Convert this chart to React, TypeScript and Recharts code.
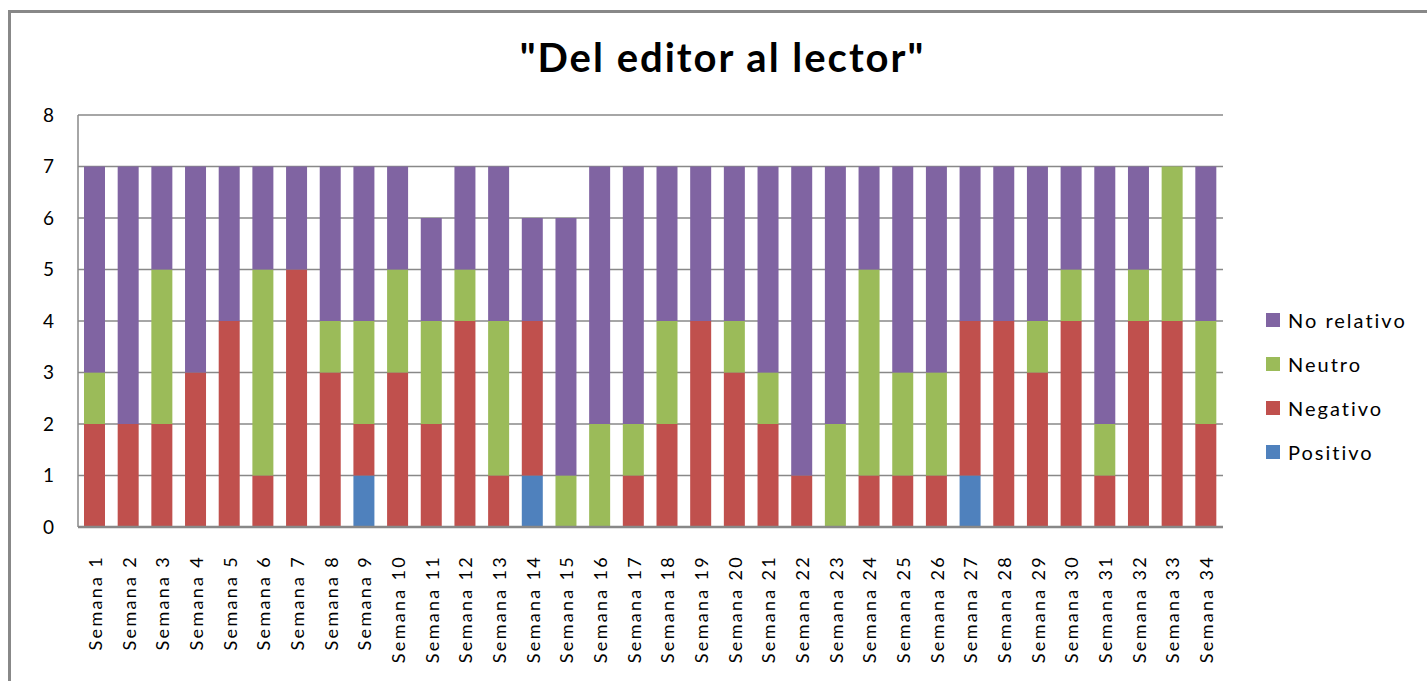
import { BarChart, Bar, XAxis, YAxis, CartesianGrid } from "recharts";

const semanas = Array.from({ length: 34 }, (_, i) => `Semana ${i + 1}`);
const positivo = [0, 0, 0, 0, 0, 0, 0, 0, 1, 0, 0, 0, 0, 1, 0, 0, 0, 0, 0, 0, 0, 0, 0, 0, 0, 0, 1, 0, 0, 0, 0, 0, 0, 0];
const negativo = [2, 2, 2, 3, 4, 1, 5, 3, 1, 3, 2, 4, 1, 3, 0, 0, 1, 2, 4, 3, 2, 1, 0, 1, 1, 1, 3, 4, 3, 4, 1, 4, 4, 2];
const neutro = [1, 0, 3, 0, 0, 4, 0, 1, 2, 2, 2, 1, 3, 0, 1, 2, 1, 2, 0, 1, 1, 0, 2, 4, 2, 2, 0, 0, 1, 1, 1, 1, 3, 2];
const noRelativo = [4, 5, 2, 4, 3, 2, 2, 3, 3, 2, 2, 2, 3, 2, 5, 5, 5, 3, 3, 3, 4, 6, 5, 2, 4, 4, 3, 3, 3, 2, 5, 2, 0, 3];
const yTicks = [0, 1, 2, 3, 4, 5, 6, 7, 8];

const data = semanas.map((name, i) => ({
    name,
    positivo: positivo[i],
    negativo: negativo[i],
    neutro: neutro[i],
    noRelativo: noRelativo[i],
}));

const FONT = "Lato, 'Open Sans', sans-serif";

const legendItems = [
    { label: "No relativo", color: "#8064A2" },
    { label: "Neutro", color: "#9BBB59" },
    { label: "Negativo", color: "#C0504D" },
    { label: "Positivo", color: "#4F81BD" },
];

// rotated week labels, ending a bit below the axis
function WeekTick(props: any) {
    const { x, y, payload } = props;
    return (
        <g transform={`translate(${x},${y})`}>
            <text
                x={-26}
                y={0}
                transform="rotate(-90)"
                textAnchor="end"
                dominantBaseline="central"
                fontFamily={FONT}
                fontSize={18}
                letterSpacing={2.3}
                fill="#000"
            >
                {payload.value}
            </text>
        </g>
    );
}

function SideLegend() {
    return (
        <div style={{ position: "absolute", left: 1266, top: 298, fontFamily: FONT }}>
            {legendItems.map((it) => (
                <div key={it.label} style={{ display: "flex", alignItems: "center", height: 44 }}>
                    <span style={{ width: 14, height: 14, background: it.color, display: "inline-block", marginRight: 8 }} />
                    <span style={{ fontSize: 20, letterSpacing: 2, color: "#000" }}>{it.label}</span>
                </div>
            ))}
        </div>
    );
}

export default function App() {
    return (
        <div style={{ position: "absolute", left: 0, top: 0, width: 1427, height: 681, overflow: "hidden", background: "#fff" }}>
            <div
                style={{
                    position: "absolute",
                    left: 8,
                    top: 10,
                    width: 1440,
                    height: 700,
                    borderLeft: "3px solid #888",
                    borderTop: "3px solid #888",
                }}
            />
            <div
                style={{
                    position: "absolute",
                    left: 0,
                    top: 33,
                    width: 1445,
                    textAlign: "center",
                    fontFamily: FONT,
                    fontWeight: 700,
                    fontSize: 40,
                    letterSpacing: 2,
                }}
            >
                "Del editor al lector"
            </div>
            <div style={{ position: "absolute", left: 0, top: 0 }}>
                <BarChart
                    width={1427}
                    height={681}
                    data={data}
                    margin={{ top: 115, left: 18, right: 204, bottom: 0 }}
                    barSize={21}
                >
                    <CartesianGrid vertical={false} stroke="#888" strokeWidth={1.5} />
                    <XAxis
                        dataKey="name"
                        interval={0}
                        height={154}
                        tickLine={false}
                        tickSize={0}
                        axisLine={{ stroke: "#888", strokeWidth: 2.5 }}
                        tick={<WeekTick />}
                    />
                    <YAxis
                        width={60}
                        domain={[0, 8]}
                        ticks={yTicks}
                        interval={0}
                        tickLine={false}
                        tickSize={0}
                        tickMargin={24}
                        axisLine={{ stroke: "#888", strokeWidth: 1.5 }}
                        tick={{ fill: "#000", fontSize: 19, fontFamily: FONT }}
                    />
                    <Bar dataKey="positivo" name="Positivo" stackId="a" fill="#4F81BD" isAnimationActive={false} />
                    <Bar dataKey="negativo" name="Negativo" stackId="a" fill="#C0504D" isAnimationActive={false} />
                    <Bar dataKey="neutro" name="Neutro" stackId="a" fill="#9BBB59" isAnimationActive={false} />
                    <Bar dataKey="noRelativo" name="No relativo" stackId="a" fill="#8064A2" isAnimationActive={false} />
                </BarChart>
            </div>
            <SideLegend />
        </div>
    );
}
